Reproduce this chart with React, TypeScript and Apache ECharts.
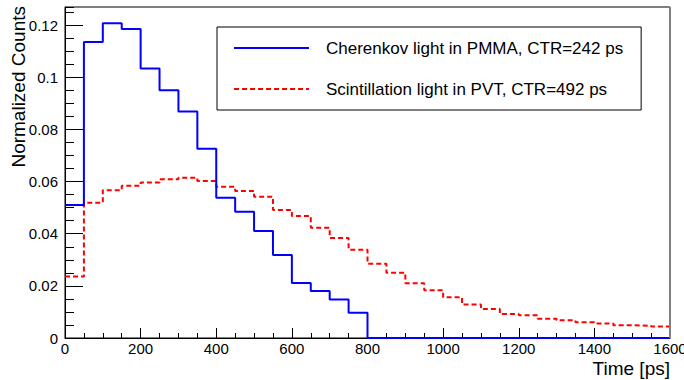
import React, { useEffect, useRef } from "react";
import * as echarts from "echarts";

const binStarts = [
  0, 50, 100, 150, 200, 250, 300, 350, 400, 450, 500, 550, 600, 650, 700, 750,
  800, 850, 900, 950, 1000, 1050, 1100, 1150, 1200, 1250, 1300, 1350, 1400, 1450, 1500, 1550,
];
const histEnd = 1600;

const cherenkovValues = [
  0.051, 0.1136, 0.1208, 0.1186, 0.1034, 0.0951, 0.0869, 0.0726, 0.0538, 0.0484, 0.0411, 0.0318,
  0.0211, 0.018, 0.0148, 0.0097, 0, 0, 0, 0, 0, 0, 0, 0, 0, 0, 0, 0, 0, 0, 0, 0,
];
const scintValues = [
  0.0236, 0.0519, 0.0567, 0.0584, 0.0597, 0.0609, 0.0615, 0.0602, 0.058, 0.0564, 0.0542, 0.0491,
  0.0468, 0.0423, 0.0384, 0.0339, 0.0285, 0.025, 0.021, 0.0183, 0.0156, 0.0129, 0.0111, 0.0092,
  0.0087, 0.0074, 0.0068, 0.006, 0.0056, 0.0049, 0.0047, 0.0044,
];

const seriesNames = [
  "Cherenkov light in PMMA, CTR=242 ps",
  "Scintillation light in PVT, CTR=492 ps",
];
const xTitle = "Time [ps]";
const yTitle = "Normalized Counts";

const FONT = "'Liberation Sans', Arial, Helvetica, sans-serif";

function toSteps(values: number[]): [number, number][] {
  const pts: [number, number][] = binStarts.map((x, i) => [x, values[i]]);
  pts.push([histEnd, values[values.length - 1]]);
  return pts;
}

export default function App() {
  const ref = useRef<HTMLDivElement>(null);
  useEffect(() => {
    if (!ref.current) return;
    const chart = echarts.init(ref.current, undefined, { renderer: "svg" });
    const gridL = 65,
      gridR = 14,
      gridT = 7,
      gridB = 42;
    chart.setOption({
      animation: false,
      backgroundColor: "#ffffff",
      grid: {
        left: gridL,
        right: gridR,
        top: gridT,
        bottom: gridB,
        show: true,
        borderColor: "#000",
        borderWidth: 1,
        backgroundColor: "transparent",
        outerBoundsMode: "none",
      },
      xAxis: {
        type: "value",
        min: 0,
        max: 1600,
        interval: 200,
        axisLine: { show: true, onZero: false, lineStyle: { color: "#000", width: 1 } },
        axisTick: { show: true, inside: true, length: 10, lineStyle: { color: "#000" } },
        minorTick: { show: true, splitNumber: 4, length: 5, lineStyle: { color: "#000" } },
        splitLine: { show: false },
        axisLabel: {
          color: "#000",
          fontSize: 15,
          fontFamily: FONT,
          margin: 3,
          hideOverlap: false,
          formatter: (v: number) => String(v),
        },
      },
      yAxis: [
        {
          type: "value",
          min: 0,
          max: 0.127,
          interval: 0.02,
          axisLine: { show: true, onZero: false, lineStyle: { color: "#000", width: 1 } },
          axisTick: { show: true, inside: true, length: 18, lineStyle: { color: "#000" } },
          splitLine: { show: false },
          axisLabel: {
            color: "#000",
            fontSize: 15,
            fontFamily: FONT,
            margin: 7,
            showMaxLabel: false,
            hideOverlap: false,
            formatter: (v: number) => String(Math.round(v * 1000) / 1000),
          },
        },
        {
          type: "value",
          position: "left",
          min: 0,
          max: 0.127,
          interval: 0.005,
          axisLine: { show: false },
          axisTick: { show: true, inside: true, length: 9, lineStyle: { color: "#000" } },
          splitLine: { show: false },
          axisLabel: { show: false },
        },
      ],
      legend: {
        orient: "vertical",
        left: 217,
        top: 27,
        padding: [12, 18, 12, 16],
        itemWidth: 75,
        itemHeight: 14,
        itemGap: 23,
        borderColor: "#000",
        borderWidth: 1,
        backgroundColor: "#fff",
        itemStyle: { opacity: 0 },
        textStyle: {
          color: "#000",
          fontSize: 17,
          fontFamily: FONT,
          lineHeight: 18,
          padding: [0, 0, 0, 12],
        },
        data: seriesNames,
      },
      series: [
        {
          name: seriesNames[0],
          type: "line",
          step: "end",
          symbol: "none",
          clip: false,
          data: toSteps(cherenkovValues),
          lineStyle: { color: "#0000ff", width: 2 },
          itemStyle: { color: "#0000ff" },
          z: 3,
        },
        {
          name: seriesNames[1],
          type: "line",
          step: "end",
          symbol: "none",
          clip: false,
          data: toSteps(scintValues),
          lineStyle: { color: "#ff0000", width: 2, type: [5, 3] },
          itemStyle: { color: "#ff0000" },
          z: 2,
        },
      ],
      graphic: [
        {
          type: "line",
          shape: { x1: 684 - gridR, y1: gridT, x2: 684 - gridR, y2: 380 - gridB },
          style: { stroke: "#808080", lineWidth: 2 },
          z: 10,
        },
        {
          type: "text",
          x: 670,
          y: 368,
          style: {
            text: xTitle,
            fill: "#000",
            fontSize: 19,
            fontFamily: FONT,
            textAlign: "right",
            textVerticalAlign: "middle",
          },
        },
        {
          type: "text",
          x: 18,
          y: 6,
          rotation: Math.PI / 2,
          style: {
            text: yTitle,
            fill: "#000",
            fontSize: 19,
            fontFamily: FONT,
            textAlign: "right",
            textVerticalAlign: "middle",
          },
        },
      ],
    });
    return () => chart.dispose();
  }, []);
  return (
    <div
      ref={ref}
      style={{ position: "fixed", left: 0, top: 0, width: 684, height: 380 }}
    />
  );
}
